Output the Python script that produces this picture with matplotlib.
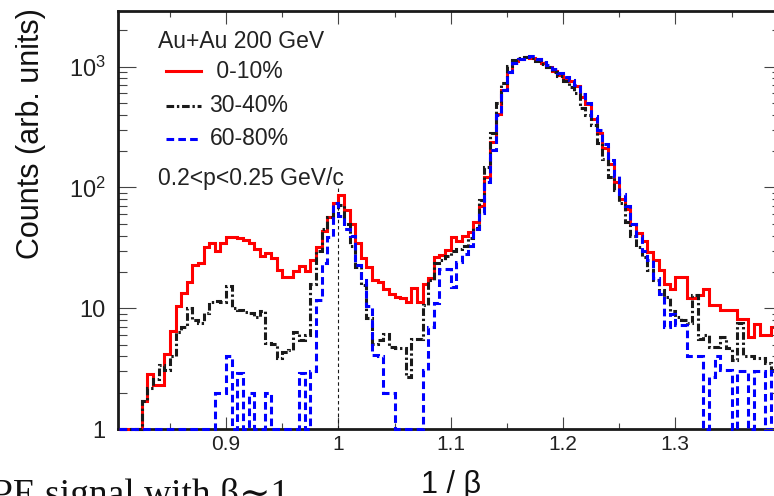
import numpy as np
import matplotlib
matplotlib.use("Agg")
import matplotlib.pyplot as plt
from matplotlib.ticker import FixedLocator, FixedFormatter, NullFormatter
from matplotlib.lines import Line2D

plt.rcParams["font.family"] = ["Liberation Sans", "DejaVu Sans"]
plt.rcParams["mathtext.fontset"] = "custom"
plt.rcParams["mathtext.rm"] = "Liberation Sans"
plt.rcParams["lines.scale_dashes"] = False

# ---- histogram binning in 1/beta ----
bin_lo = 0.805
bin_width = 0.005

# counts per bin, 0.2 < p < 0.25 GeV/c
counts_0_10 = [
    0, 0, 0, 0,
    1.7, 2.85, 2.3, 2.3, 4.2, 6.5,
    10.4, 13.3, 16.6, 22.7, 23.6, 32, 35, 30, 35, 39,
    39, 38.5, 36.6, 34.5, 31, 27, 28.5, 26, 20.7, 18.2,
    18.2, 20.5, 22.5, 20.5, 25, 32, 44, 57, 75, 86,
    65, 50, 35, 26, 21.8, 17.1, 16.4, 14.5, 13.2, 12.5,
    12.2, 11.3, 14.6, 11.2, 15.8, 17.7, 26.7, 27.5, 30.3, 39,
    36, 40, 43, 52, 70, 122, 240, 405, 640, 895,
    1110, 1150, 1200, 1180, 1150, 1070, 1000, 920, 860, 810,
    760, 690, 565, 490, 372, 285, 212, 155, 111, 80,
    66, 50, 42, 36, 29, 25, 20.7, 16, 14.3, 18,
    18, 12.1, 12.1, 12.9, 14.3, 10.6, 10.6, 9.7, 9.7, 9.7,
    8.2, 8.2, 5.8, 7.4, 6.0, 6.0, 7.0,
]

counts_30_40 = [
    0, 0, 0, 0,
    1.7, 2.2, 2.6, 3.4, 3.1, 4.0,
    6.4, 7, 10, 8, 7.5, 9.1, 11.2, 11.4, 11.2, 15.3,
    10, 9.7, 9.3, 9.1, 8.5, 9.4, 5.2, 5.1, 3.9, 4.3,
    4.5, 6.4, 5.5, 6, 16, 30, 45, 57, 62, 71,
    50, 33, 22, 15.6, 8.3, 5.1, 5.5, 6.1, 4.8, 4.65,
    4.7, 2.7, 5.6, 5.6, 10.6, 17, 23.6, 25, 27, 30,
    31, 33, 38, 46, 78, 148, 280, 500, 730, 1020,
    1130, 1180, 1200, 1170, 1120, 1060, 990, 900, 830, 760,
    680, 600, 455, 400, 330, 235, 173, 122, 95, 74,
    52, 40, 32, 26.7, 20.7, 17, 14.1, 12.5, 9.4, 8.5,
    8, 7.5, 12.9, 5.6, 6.0, 4.8, 4.8, 5.8, 4.65, 3.7,
    7.6, 4.0, 4.0, 3.9, 3.9, 3.5, 3.1,
]

counts_60_80 = [
    0, 0, 0, 0, 0, 0, 0, 0, 0, 0,
    0, 0, 0, 0, 0, 0, 0, 2.0, 2.0, 4.0,
    0, 2.9, 0, 2.0, 0, 0, 2.0, 0, 0, 0,
    0, 0, 2.9, 0, 3.0, 11.7, 23.6, 39, 74, 58,
    45, 40, 22.7, 17, 10.4, 4.1, 4.0, 2.0, 2.0, 0,
    0, 0, 0, 0, 3.1, 7, 11, 21, 21, 15,
    24, 28, 33, 45, 61, 111, 203, 398, 640, 900,
    1070, 1150, 1210, 1230, 1160, 1100, 1030, 950, 880, 820,
    780, 710, 590, 500, 390, 300, 230, 170, 125, 88,
    70, 50, 40, 30, 25, 17.8, 13, 7, 9, 7.3,
    7.3, 4.0, 4.0, 4.0, 0, 2.7, 4.0, 3.1, 3.1, 0,
    3.0, 3.0, 0, 3.0, 3.0, 0, 3.0,
]

series_labels = [" 0-10%", "30-40%", "60-80%"]
system_label = "Au+Au 200 GeV"
momentum_label = "0.2<p<0.25 GeV/c"

x_major = [0.9, 1.0, 1.1, 1.2, 1.3]
x_major_labels = ["0.9", "1", "1.1", "1.2", "1.3"]
x_minor = [0.85, 0.95, 1.05, 1.15, 1.25, 1.35]
y_major = [1, 10, 100, 1000]
y_major_labels = ["1", "10", r"$\mathregular{10^{2}}$", r"$\mathregular{10^{3}}$"]

# ---- figure layout (pixels) ----
W, H = 774, 496
fig = plt.figure(figsize=(W / 100, H / 100), dpi=100)
ax_l, ax_r, ax_t, ax_b = 118, 776, 11, 429
ax = fig.add_axes([ax_l / W, 1 - ax_b / H, (ax_r - ax_l) / W, (ax_b - ax_t) / H])

ymin, ymax = 1.0, 2890.0
ax.set_yscale("log")
ax.set_ylim(ymin, ymax)
ax.set_xlim(0.8038, 1.3896)

edges = bin_lo + bin_width * np.arange(len(counts_0_10) + 1)

styles = [
    dict(color="#ff0000", linestyle="-", lw=2.2),
    dict(color="#1a1a1a", linestyle=(0, (5.5, 2.0, 1.7, 2.0)), lw=2.2),
    dict(color="#0000ff", linestyle=(0, (5.5, 3.0)), lw=2.2),
]
for vals, st in zip([counts_0_10, counts_30_40, counts_60_80], styles):
    v = np.asarray(vals, dtype=float)
    v = np.where(v > 0, v, ymin)  # empty bins sit on the frame
    ax.stairs(v, edges, baseline=None, fill=False, zorder=3, clip_on=False, **st)

# beta = 1 marker
ax.vlines(1.0, ymin, 100, colors="#1a1a1a", linestyles=(0, (2.5, 2.0)), lw=0.8, zorder=2)

# ---- axes styling ----
frame_c = "#1a1a1a"
for s in ["left", "bottom", "top", "right"]:
    ax.spines[s].set_linewidth(2.0)
    ax.spines[s].set_color(frame_c)
    ax.spines[s].set_zorder(2.5)

ax.xaxis.set_major_locator(FixedLocator(x_major))
ax.xaxis.set_major_formatter(FixedFormatter(x_major_labels))
ax.xaxis.set_minor_locator(FixedLocator(x_minor))
ax.xaxis.set_minor_formatter(NullFormatter())
ax.yaxis.set_major_locator(FixedLocator(y_major))
ax.yaxis.set_major_formatter(FixedFormatter(y_major_labels))
y_minor = [m * d for d in [1, 10, 100, 1000] for m in range(2, 10)]
ax.yaxis.set_minor_locator(FixedLocator(y_minor))
ax.yaxis.set_minor_formatter(NullFormatter())

tick_c = "#444444"
ax.tick_params(axis="x", which="both", direction="in", top=True, bottom=True,
               color=tick_c, width=0.8, labelsize=15, labelcolor="#222222", pad=4)
ax.tick_params(axis="x", which="major", length=9)
ax.tick_params(axis="x", which="minor", length=4.5)
ax.tick_params(axis="y", which="both", direction="in", left=True, right=False,
               color=tick_c, width=0.8, labelsize=17, labelcolor="#222222", pad=9)
ax.tick_params(axis="y", which="major", length=13)
ax.tick_params(axis="y", which="minor", length=6.5)

# shorter ticks on the right-hand side
ax2 = ax.twinx()
ax2.set_yscale("log")
ax2.set_ylim(ymin, ymax)
ax2.yaxis.set_major_locator(FixedLocator(y_major))
ax2.yaxis.set_minor_locator(FixedLocator(y_minor))
ax2.yaxis.set_major_formatter(NullFormatter())
ax2.yaxis.set_minor_formatter(NullFormatter())
ax2.tick_params(axis="y", which="both", direction="in", right=True, left=False,
                labelright=False, color=tick_c, width=0.8)
ax2.tick_params(axis="y", which="major", length=8.5)
ax2.tick_params(axis="y", which="minor", length=3)
for s in ax2.spines.values():
    s.set_visible(False)

# ---- axis titles ----
def fx(px):
    return px / W

def fy(py):
    return 1 - py / H

fig.text(fx(31), fy(8), "Counts (arb. units)", rotation=90, ha="center", va="top",
         fontsize=22, color="#111111")
fig.text(fx(451), fy(493), "1 / β", ha="center", va="baseline",
         fontsize=22, color="#111111")

# ---- legend block ----
txt_c = "#222222"
fig.text(fx(157.5), fy(48.5), system_label, fontsize=16.5, color=txt_c, va="baseline")
legend_rows = [71, 106, 138.5]
label_x = [209.5, 209.5, 209.5]
for lab, st, yrow, lx in zip(series_labels, styles, legend_rows, label_x):
    fig.add_artist(Line2D([fx(166), fx(201)], [fy(yrow), fy(yrow)],
                          transform=fig.transFigure, **st))
    fig.text(fx(lx), fy(yrow) - 6.5 / H, lab, fontsize=16.5, color=txt_c, va="baseline")
fig.text(fx(157.5), fy(185), momentum_label, fontsize=16.5, color=txt_c, va="baseline")

# caption line running below the figure
fig.text(fx(-8), fy(505), "PE signal with β∼1", fontsize=27, color="#111111",
         va="baseline", family=["Liberation Serif", "DejaVu Serif"])

fig.savefig("out.png", dpi=100)
